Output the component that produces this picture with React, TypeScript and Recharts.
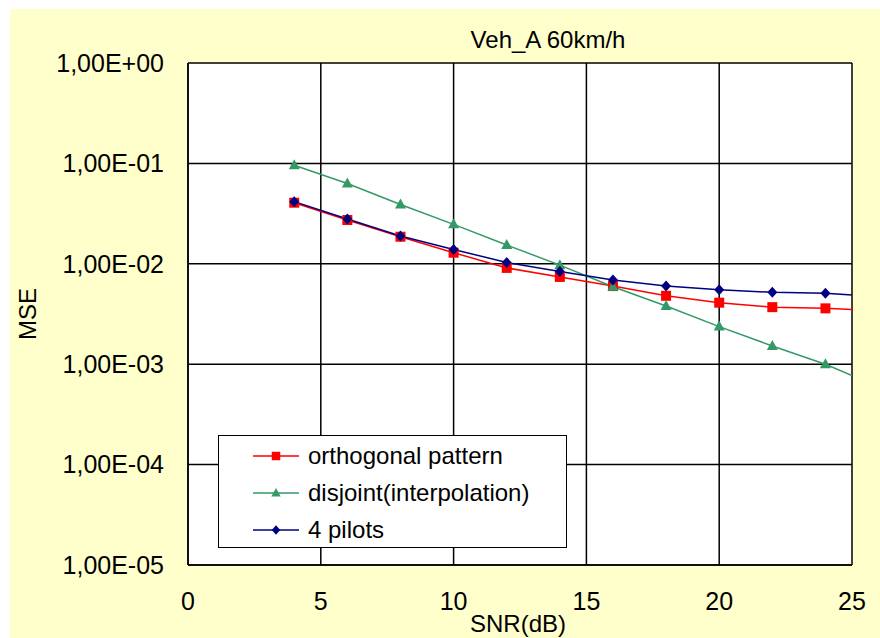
import React from 'react';
import { LineChart, Line, XAxis, YAxis, CartesianGrid, Legend } from 'recharts';

// SNR points (the last one only carries the line to the plot edge, no marker)
const snr = [4, 6, 8, 10, 12, 14, 16, 18, 20, 22, 24, 25];

const orthogonal = [0.0406, 0.0273, 0.0186, 0.0129, 0.0091, 0.0074, 0.0060, 0.0048, 0.0041, 0.0037, 0.0036, 0.0035];
const disjoint = [0.096, 0.063, 0.039, 0.0247, 0.0154, 0.0097, 0.0059, 0.0038, 0.00237, 0.00152, 0.0010, 0.00077];
const pilots = [0.0416, 0.0279, 0.0189, 0.0139, 0.0103, 0.0084, 0.0069, 0.0060, 0.0055, 0.0052, 0.0051, 0.0049];

const xTicks = [0, 5, 10, 15, 20, 25];
const yTicks = [1, 0.1, 0.01, 0.001, 0.0001, 0.00001];

const SERIES = [
  { key: 'orthogonal', name: 'orthogonal pattern', color: '#FF0000', shape: 'square' },
  { key: 'disjoint', name: 'disjoint(interpolation)', color: '#339966', shape: 'triangle' },
  { key: 'pilots', name: '4 pilots', color: '#000080', shape: 'diamond' },
];

const data = snr.map((x, i) => ({
  snr: x,
  orthogonal: orthogonal[i],
  disjoint: disjoint[i],
  pilots: pilots[i],
}));

const FONT = '"Liberation Sans", Arial, sans-serif';

const fmtExp = (v: number) => {
  const e = Math.round(Math.log10(v));
  const s = String(Math.abs(e)).padStart(2, '0');
  return `1,00E${e >= 0 ? '+' : '-'}${s}`;
};

const Marker = ({ shape, x, y, color, k = 1 }: { shape: string; x: number; y: number; color: string; k?: number }) => {
  if (shape === 'square') return <rect x={x - 5 * k} y={y - 5 * k} width={10 * k} height={10 * k} fill={color} />;
  if (shape === 'triangle')
    return (
      <polygon
        points={`${x},${y - 6 * k} ${x + 5.5 * k},${y + 4 * k} ${x - 5.5 * k},${y + 4 * k}`}
        fill={color}
      />
    );
  return (
    <polygon
      points={`${x},${y - 5.5 * k} ${x + 5 * k},${y} ${x},${y + 5.5 * k} ${x - 5 * k},${y}`}
      fill={color}
    />
  );
};

const makeDot = (shape: string, color: string) => (props: any) => {
  const { cx, cy, payload, index } = props;
  if (cx == null || cy == null || payload.snr > 24) return <g key={`d-${index}`} />;
  return (
    <g key={`d-${index}`}>
      <Marker shape={shape} x={cx} y={cy} color={color} />
    </g>
  );
};

const LegendBox = () => (
  <div
    style={{
      boxSizing: 'border-box',
      width: 349,
      height: 113,
      background: '#fff',
      border: '1px solid #000',
      paddingTop: 1,
      fontFamily: FONT,
      fontSize: 24,
      color: '#000',
    }}
  >
    {SERIES.map((s) => (
      <div key={s.key} style={{ height: 37, display: 'flex', alignItems: 'center', paddingLeft: 34 }}>
        <svg width={46} height={14} style={{ display: 'block' }}>
          <line x1={0} y1={7} x2={46} y2={7} stroke={s.color} strokeWidth={1.5} />
          <Marker shape={s.shape} x={23} y={7} color={s.color} k={0.85} />
        </svg>
        <span style={{ marginLeft: 9, lineHeight: 1 }}>{s.name}</span>
      </div>
    ))}
  </div>
);

export default function App() {
  return (
    <div style={{ position: 'absolute', left: 0, top: 0, width: 880, height: 638, background: '#fff', overflow: 'hidden' }}>
      <div style={{ position: 'absolute', left: 10, top: 9, width: 870, height: 629, background: '#FFFFCC' }} />
      <div style={{ position: 'absolute', left: 0, top: 0 }}>
        <LineChart width={880} height={638} data={data} margin={{ top: 63, right: 28, bottom: 13, left: 0 }}>
          <CartesianGrid fill="#fff" stroke="#000" strokeWidth={1.5} />
          <XAxis
            dataKey="snr"
            type="number"
            domain={[0, 25]}
            ticks={xTicks}
            height={60}
            tickSize={0}
            tickLine={false}
            tickMargin={27}
            axisLine={{ stroke: '#000', strokeWidth: 1.5 }}
            tick={{ fill: '#000', fontSize: 25, fontFamily: FONT }}
            allowDataOverflow
          />
          <YAxis
            type="number"
            scale="log"
            domain={[0.00001, 1]}
            ticks={yTicks}
            width={188}
            tickSize={0}
            tickLine={false}
            tickMargin={24}
            tickFormatter={fmtExp}
            axisLine={{ stroke: '#000', strokeWidth: 1.5 }}
            tick={{ fill: '#000', fontSize: 25, fontFamily: FONT }}
            allowDataOverflow
          />
          <Legend
            verticalAlign="middle"
            align="center"
            layout="horizontal"
            content={() => <LegendBox />}
            wrapperStyle={{ left: 218, top: 435, width: 349, height: 113, bottom: 'auto', right: 'auto' }}
          />
          {SERIES.map((s) => (
            <Line
              key={s.key}
              type="linear"
              dataKey={s.key}
              name={s.name}
              stroke={s.color}
              strokeWidth={1.5}
              dot={makeDot(s.shape, s.color)}
              activeDot={false}
              isAnimationActive={false}
            />
          ))}
        </LineChart>
      </div>
      <div
        style={{
          position: 'absolute',
          left: 548,
          top: 28,
          transform: 'translateX(-50%)',
          fontFamily: FONT,
          fontSize: 24,
          lineHeight: '24px',
          whiteSpace: 'nowrap',
          color: '#000',
        }}
      >
        Veh_A 60km/h
      </div>
      <div
        style={{
          position: 'absolute',
          left: 518,
          top: 612,
          transform: 'translateX(-50%)',
          fontFamily: FONT,
          fontSize: 24,
          lineHeight: '24px',
          whiteSpace: 'nowrap',
          color: '#000',
        }}
      >
        SNR(dB)
      </div>
      <div
        style={{
          position: 'absolute',
          left: 28,
          top: 314,
          transform: 'translate(-50%, -50%) rotate(-90deg)',
          fontFamily: FONT,
          fontSize: 24,
          lineHeight: '24px',
          whiteSpace: 'nowrap',
          color: '#000',
        }}
      >
        MSE
      </div>
    </div>
  );
}
